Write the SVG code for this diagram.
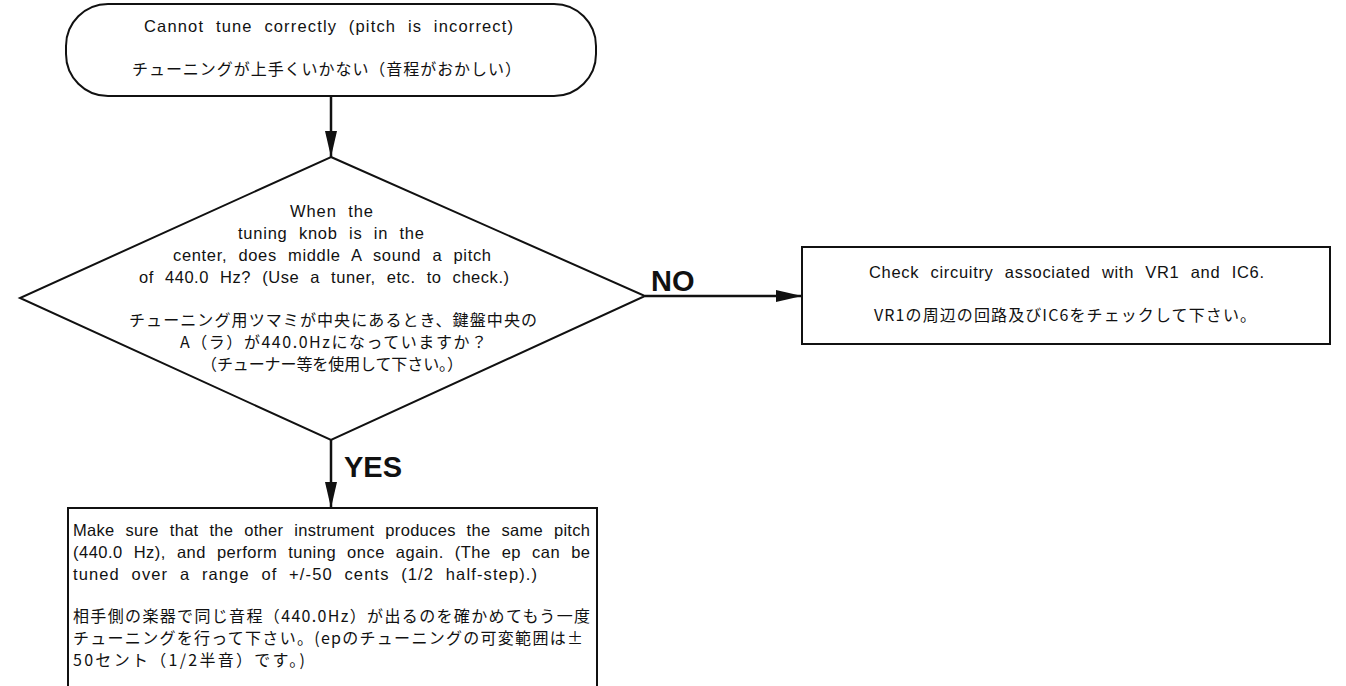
<svg xmlns="http://www.w3.org/2000/svg" width="1346" height="686" viewBox="0 0 1346 686">
<style>
.shape{fill:#fff;stroke:#111;stroke-width:2}
.line{fill:none;stroke:#111;stroke-width:2.5}
.t{font-family:"Liberation Sans","Noto Sans CJK JP",sans-serif;font-size:16.5px;word-spacing:6px;fill:#111}
.j{font-family:"Noto Sans CJK JP","Liberation Sans",sans-serif;font-size:16px;fill:#111}
.lbl{font-family:"Liberation Sans",sans-serif;font-size:29px;font-weight:bold;fill:#111}
</style>
<defs>
<marker id="ah" markerWidth="26" markerHeight="12" refX="26" refY="6" orient="auto" markerUnits="userSpaceOnUse">
<path d="M0,0 L26,6 L0,12 Z" fill="#111"/>
</marker>
</defs>
<rect width="1346" height="686" fill="#fff"/>
<g id="connectors">
<line class="line" x1="331" y1="96" x2="331" y2="157" marker-end="url(#ah)"/>
<line class="line" x1="645" y1="296" x2="802" y2="296" marker-end="url(#ah)"/>
<line class="line" x1="331" y1="440" x2="331" y2="508" marker-end="url(#ah)"/>
<text class="lbl" x="651" y="291">NO</text>
<text class="lbl" x="344" y="477">YES</text>
</g>
<g id="start">
<rect class="shape" x="66" y="4" width="530" height="92" rx="42" ry="42"/>
<text class="t" x="144" y="32" textLength="369" lengthAdjust="spacing">Cannot tune correctly  (pitch is incorrect)</text>
<text class="j" x="132" y="75" textLength="389" lengthAdjust="spacing">チューニングが上手くいかない（音程がおかしい）</text>
</g>
<g id="decision">
<polygon class="shape" points="331,157 645,296 331,440 20,298"/>
<text class="t" x="290" y="217" textLength="83" lengthAdjust="spacing">When the</text>
<text class="t" x="238" y="239" textLength="186" lengthAdjust="spacing">tuning knob is in the</text>
<text class="t" x="173" y="261" textLength="318" lengthAdjust="spacing">center, does middle A sound a pitch</text>
<text class="t" x="139" y="283" textLength="370" lengthAdjust="spacing">of 440.0 Hz? (Use a tuner, etc. to check.)</text>
<text class="j" x="129" y="326" textLength="408" lengthAdjust="spacing">チューニング用ツマミが中央にあるとき、鍵盤中央の</text>
<text class="j" x="180" y="348" textLength="307" lengthAdjust="spacing">A（ラ）が440.0Hzになっていますか？</text>
<text class="j" x="201" y="370" textLength="262" lengthAdjust="spacing">（チューナー等を使用して下さい。）</text>
</g>
<g id="check">
<rect class="shape" x="802" y="247" width="528" height="97"/>
<text class="t" x="869" y="278" textLength="395" lengthAdjust="spacing">Check circuitry associated with VR1 and IC6.</text>
<text class="j" x="874" y="321" textLength="382" lengthAdjust="spacing">VR1の周辺の回路及びIC6をチェックして下さい。</text>
</g>
<g id="retune">
<path class="shape" d="M68,700 L68,508 L597,508 L597,700"/>
<text class="t" x="73" y="536" textLength="517" lengthAdjust="spacing">Make sure that the other instrument produces the same pitch</text>
<text class="t" x="73" y="558" textLength="517" lengthAdjust="spacing">(440.0 Hz), and perform tuning once again. (The ep can be</text>
<text class="t" x="73" y="580" textLength="464" lengthAdjust="spacing">tuned over a range of +/-50 cents  (1/2 half-step).)</text>
<text class="j" x="73" y="622" textLength="517" lengthAdjust="spacing">相手側の楽器で同じ音程（440.0Hz）が出るのを確かめてもう一度</text>
<text class="j" x="73" y="644" textLength="510" lengthAdjust="spacing">チューニングを行って下さい。(epのチューニングの可変範囲は±</text>
<text class="j" x="73" y="666" textLength="232" lengthAdjust="spacing">50セント（1/2半音）です。)</text>
</g>
</svg>
